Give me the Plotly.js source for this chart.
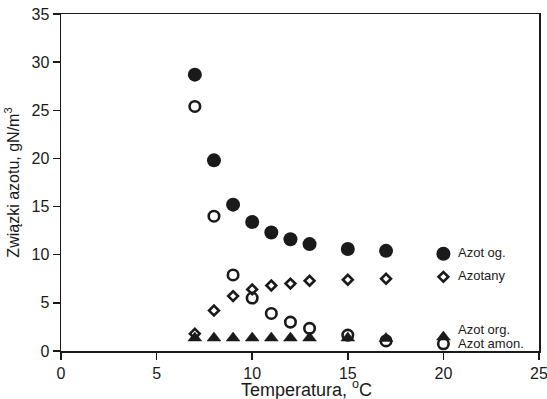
<!DOCTYPE html>
<html>
<head>
<meta charset="utf-8">
<script src="https://cdn.plot.ly/plotly-3.0.1.min.js"></script>
<style>html,body{margin:0;padding:0;background:#fff;}#chart{width:547px;height:399px;}</style>
</head>
<body>
<div id="chart"></div>
<script>
// Temperature (°C)
const temperature = [7, 8, 9, 10, 11, 12, 13, 15, 17, 20];
// Azot og. (filled circles)
const azotOg = [28.7, 19.8, 15.2, 13.4, 12.3, 11.6, 11.1, 10.6, 10.4, 10.1];
// Azotany (open diamonds)
const azotany = [1.8, 4.2, 5.7, 6.4, 6.8, 7.0, 7.3, 7.4, 7.5, 7.7];
// Azot amon. (open circles)
const azotAmon = [25.4, 14.0, 7.9, 5.5, 3.9, 3.0, 2.35, 1.65, 1.05, 0.75];
// Azot org. (filled triangles)
const azotOrg = [1.35, 1.35, 1.35, 1.35, 1.35, 1.35, 1.35, 1.35, 1.3, 1.45];

const seriesNames = ['Azot og.', 'Azotany', 'Azot org.', 'Azot amon.'];
const labelY = [10.2, 7.85, 2.2, 0.78];

const ink = '#1a1a1a';
const font = 'Liberation Sans, Arial, sans-serif';

const traces = [
  {x: temperature, y: azotAmon, mode: 'markers', type: 'scatter', name: seriesNames[3],
   marker: {symbol: 'circle-open', size: 10.5, color: ink, line: {width: 2.6, color: ink}}},
  {x: temperature, y: azotany, mode: 'markers', type: 'scatter', name: seriesNames[1],
   marker: {symbol: 'diamond-open', size: 7.5, color: ink, line: {width: 2.6, color: ink}}},
  {x: temperature, y: azotOrg, mode: 'markers', type: 'scatter', name: seriesNames[2],
   marker: {symbol: 'triangle-up', size: 12, color: ink, line: {width: 0.5, color: ink}}},
  {x: temperature, y: azotOg, mode: 'markers', type: 'scatter', name: seriesNames[0],
   marker: {symbol: 'circle', size: 14, color: ink, line: {width: 0}}}
];

const annotations = seriesNames.map((n, i) => ({
  x: 20, y: labelY[i], xref: 'x', yref: 'y', text: n, showarrow: false,
  xanchor: 'left', yanchor: 'middle', xshift: 13,
  font: {family: font, size: 13, color: ink}
}));
// x-axis title
annotations.push({
  x: 0.5, y: 0, xref: 'paper', yref: 'paper', xanchor: 'center', yanchor: 'top',
  xshift: 6, yshift: -24, showarrow: false,
  text: 'Temperatura, <sup>o</sup>C',
  font: {family: font, size: 18, color: ink}
});

const layout = {
  width: 547, height: 399,
  margin: {l: 61, r: 8, t: 14, b: 48},
  paper_bgcolor: '#fff', plot_bgcolor: '#fff',
  showlegend: false,
  font: {family: font, color: ink},
  xaxis: {
    range: [0, 25], dtick: 5, tick0: 0,
    ticks: 'outside', ticklen: 7, tickwidth: 1.5, tickcolor: ink,
    showline: true, linecolor: ink, linewidth: 1.5, mirror: true,
    showgrid: false, zeroline: false, ticklabeloverflow: 'allow',
    tickfont: {family: font, size: 16, color: ink}
  },
  yaxis: {
    range: [0, 35], dtick: 5, tick0: 0,
    ticks: 'outside', ticklen: 7, tickwidth: 1.5, tickcolor: ink,
    showline: true, linecolor: ink, linewidth: 1.5, mirror: true,
    showgrid: false, zeroline: false, ticklabeloverflow: 'allow',
    tickfont: {family: font, size: 16, color: ink},
    title: {text: 'Związki azotu, gN/m<sup>3</sup>', font: {family: font, size: 16, color: ink}, standoff: 8}
  },
  annotations: annotations
};

Plotly.newPlot('chart', traces, layout, {staticPlot: true, displayModeBar: false});
</script>
</body>
</html>
